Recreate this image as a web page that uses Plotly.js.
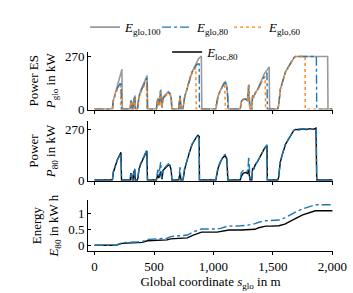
<!DOCTYPE html>
<html><head><meta charset="utf-8">
<script src="https://cdn.plot.ly/plotly-3.0.1.min.js"></script>
<style>html,body{margin:0;padding:0;background:#fff}#chart{width:353px;height:293px}</style>
</head><body><div id="chart"></div>
<script>
// ---- Panel 1: power of energy storage, global strategies ----
const sGlo100 = [0,150,158,165,172,180,190,200,210,220,230,234,300,305,312,318,325,332,341,345,360,366,372,385,400,415,430,442,447,520,526,532,540,548,556,562,568,575,590,605,620,635,645,650,708,714,720,726,742,748,757,771,790,804,820,838,855,875,898,902,1020,1029,1040,1057,1074,1090,1100,1112,1122,1126,1225,1234,1250,1270,1285,1292,1296,1300,1308,1322,1329,1340,1351,1370,1390,1410,1430,1450,1468,1472,1540,1548,1555,1562,1576,1590,1605,1619,1632,1645,1660,1675,1688,1960,1963,2000];
const pGlo100 = [0,0,45,62,78,100,125,140,160,180,205,0,0,45,40,0,0,55,70,0,0,20,60,90,110,130,150,172,0,0,30,55,20,50,100,20,10,60,70,80,90,82,55,0,0,40,68,0,0,20,60,90,140,160,190,215,240,260,272,0,0,40,70,95,118,135,140,120,60,0,0,40,50,52,45,80,125,40,0,0,70,65,85,100,130,160,185,200,217,0,0,20,60,100,130,160,190,205,220,235,250,262,270,270,0,0];

const sGlo80 = [0,150,158,165,172,180,190,200,210,222,227,300,305,312,318,325,332,338,342,360,366,372,385,400,415,430,440,445,520,526,532,540,548,556,562,568,575,590,605,620,635,645,650,708,714,720,726,742,748,757,771,790,804,820,838,855,869,880,882,1020,1029,1040,1057,1074,1090,1100,1112,1119,1121,1225,1234,1250,1270,1285,1292,1296,1300,1308,1322,1329,1340,1351,1370,1390,1410,1430,1450,1453,1540,1548,1555,1562,1576,1590,1605,1619,1632,1645,1660,1675,1688,1865,1868,2000];
const pGlo80 = [0,0,45,60,72,92,105,115,125,140,0,0,40,35,0,0,50,60,0,0,20,55,85,105,125,145,160,0,0,30,55,20,50,95,20,10,55,65,75,85,78,55,0,0,40,68,0,0,20,60,90,140,160,190,210,225,232,232,0,0,40,70,95,118,132,135,115,60,0,0,40,50,52,45,75,125,40,0,0,65,62,82,98,125,150,170,187,0,0,20,60,100,130,160,190,205,220,235,250,262,270,270,0,0];

const sGlo60 = [0,150,158,165,172,180,190,200,210,218,222,300,305,312,318,325,332,338,342,360,366,372,385,400,415,428,435,440,520,526,532,540,548,556,562,568,575,590,605,620,635,645,650,708,714,720,726,742,748,757,771,790,804,820,838,852,855,1020,1029,1040,1057,1074,1090,1095,1099,1225,1234,1250,1270,1285,1292,1296,1300,1308,1322,1329,1340,1351,1370,1390,1410,1435,1438,1540,1548,1555,1562,1576,1590,1605,1619,1632,1645,1660,1675,1688,1770,1772,2000];
const pGlo60 = [0,0,42,58,70,88,100,108,115,120,0,0,38,32,0,0,45,55,0,0,18,50,80,100,118,132,140,0,0,28,50,18,48,90,18,8,52,62,72,82,75,50,0,0,38,62,0,0,18,58,88,135,155,185,200,212,0,0,38,68,92,112,122,125,0,0,38,48,50,45,75,128,40,0,0,62,60,80,95,120,145,167,0,0,20,60,100,130,160,190,205,220,235,250,262,270,270,0,0];

// ---- Panel 2: local strategy power ----
const sLoc80 = [0,150,158,165,172,180,190,200,210,222,227,300,305,312,318,325,332,338,342,360,366,372,385,400,415,430,440,445,520,526,532,540,548,556,562,568,575,590,605,620,635,645,650,708,714,720,726,742,748,757,771,790,804,820,838,855,869,880,882,1020,1029,1040,1057,1074,1090,1100,1112,1119,1121,1225,1234,1250,1270,1285,1292,1296,1300,1308,1322,1329,1340,1351,1370,1390,1410,1430,1450,1453,1540,1548,1555,1562,1576,1590,1605,1619,1632,1645,1660,1675,1688,1720,1750,1780,1810,1840,1862,1868,2000];
const pLoc80 = [0,0,40,55,70,90,105,118,128,146,0,0,35,30,0,0,45,55,0,0,15,50,80,100,122,142,155,0,0,15,30,10,30,45,15,5,50,62,72,80,75,50,0,0,20,35,0,0,15,55,88,135,158,188,210,226,237,230,0,0,30,65,92,115,125,128,110,50,0,0,20,35,40,35,45,55,30,0,0,60,60,80,97,123,148,168,182,0,0,15,55,95,128,158,188,203,218,233,248,262,268,266,270,267,272,268,275,0,0];

// ---- Panel 3: energy ----
const sE = [0,180,230,300,350,400,445,520,560,610,640,740,780,830,880,900,1030,1060,1110,1130,1230,1290,1350,1380,1440,1480,1550,1600,1650,1700,1750,1800,1857,2000];
const eGlo80 = [0,0,0.08,0.09,0.10,0.11,0.18,0.19,0.20,0.22,0.27,0.29,0.32,0.42,0.50,0.51,0.51,0.53,0.59,0.60,0.61,0.63,0.68,0.72,0.77,0.78,0.79,0.86,0.97,1.06,1.14,1.21,1.27,1.27];
const eLoc80 = [0,0,0.06,0.07,0.08,0.09,0.14,0.15,0.16,0.17,0.20,0.21,0.23,0.32,0.40,0.41,0.41,0.43,0.47,0.48,0.48,0.49,0.50,0.55,0.60,0.60,0.61,0.66,0.77,0.86,0.95,1.02,1.08,1.08];

const xTickVals = [0,500,1000,1500,2000];
const xTickText = ['0','500','1,000','1,500','2,000'];

const cGray = '#9a9a9a', cBlue = '#1f77b4', cOrange = '#ff7f0e', cBlack = '#000000';
const F = 'Liberation Serif, Times New Roman, serif';

const traces = [
  {x:sGlo100,y:pGlo100,xaxis:'x',yaxis:'y',mode:'lines',name:'<i>E</i><sub>glo,100</sub>',legend:'legend',line:{color:cGray,width:1.6}},
  {x:sGlo80,y:pGlo80,xaxis:'x',yaxis:'y',mode:'lines',name:'<i>E</i><sub>glo,80</sub>',legend:'legend',line:{color:cBlue,width:1.4,dash:'dashdot'}},
  {x:sGlo60,y:pGlo60,xaxis:'x',yaxis:'y',mode:'lines',name:'<i>E</i><sub>glo,60</sub>',legend:'legend',line:{color:cOrange,width:1.4,dash:'dot'}},
  {x:sLoc80,y:pLoc80,xaxis:'x2',yaxis:'y2',mode:'lines',name:'<i>E</i><sub>loc,80</sub>',legend:'legend2',line:{color:cBlack,width:1.4}},
  {x:sGlo80,y:pGlo80,xaxis:'x2',yaxis:'y2',mode:'lines',showlegend:false,line:{color:cBlue,width:1.4,dash:'dashdot'}},
  {x:sE,y:eLoc80,xaxis:'x3',yaxis:'y3',mode:'lines',showlegend:false,line:{color:cBlack,width:1.4}},
  {x:sE,y:eGlo80,xaxis:'x3',yaxis:'y3',mode:'lines',showlegend:false,line:{color:cBlue,width:1.4,dash:'dashdot'}}
];

const xBase = {range:[-55,2005],showgrid:false,zeroline:false,showline:true,linecolor:'#000',linewidth:1,
  ticks:'outside',ticklen:3,tickcolor:'#000',tickvals:xTickVals,ticktext:xTickText,tickfont:{family:F,size:13,color:'#000'}};
const yBase = {showgrid:false,zeroline:false,showline:true,linecolor:'#000',linewidth:1,
  ticks:'inside',ticklen:3,tickcolor:'#000',tickfont:{family:F,size:13,color:'#000'}};
const legFont = {family:F,size:13,color:'#000'};

const layout = {
  width:353,height:293,margin:{l:88,r:20,t:47,b:42},
  paper_bgcolor:'#fff',plot_bgcolor:'#fff',
  font:{family:F,size:13,color:'#000'},
  showlegend:true,
  legend:{orientation:'h',x:-0.012,xanchor:'left',y:1.2,yanchor:'top',entrywidth:27,
    font:legFont,bgcolor:'rgba(0,0,0,0)'},
  legend2:{orientation:'h',x:0.323,xanchor:'left',y:1.075,yanchor:'top',
    font:legFont,bgcolor:'rgba(0,0,0,0)'},
  xaxis:Object.assign({},xBase,{anchor:'y',showticklabels:false}),
  xaxis2:Object.assign({},xBase,{anchor:'y2',matches:'x',showticklabels:false}),
  xaxis3:Object.assign({},xBase,{anchor:'y3',matches:'x',
    title:{text:'Global coordinate <i>s</i><sub>glo</sub> in m',font:{family:F,size:13},standoff:4}}),
  yaxis:Object.assign({},yBase,{domain:[0.7108,1],range:[-2,293],tickvals:[0,270],
    title:{text:'Power ES<br><i>P</i><sub>glo</sub> in kW',font:{family:F,size:13},standoff:6}}),
  yaxis2:Object.assign({},yBase,{domain:[0.3529,0.652],range:[-4,311],tickvals:[0,270],
    title:{text:'Power<br><i>P</i><sub>80</sub> in kW',font:{family:F,size:13},standoff:6}}),
  yaxis3:Object.assign({},yBase,{domain:[0,0.2549],range:[-0.18,1.41],tickvals:[0,0.5,1],ticktext:['0','0.5','1'],
    title:{text:'Energy<br><i>E</i><sub>80</sub> in kW h',font:{family:F,size:13},standoff:6}})
};

Plotly.newPlot('chart',traces,layout,{displayModeBar:false,staticPlot:true});
</script></body></html>
